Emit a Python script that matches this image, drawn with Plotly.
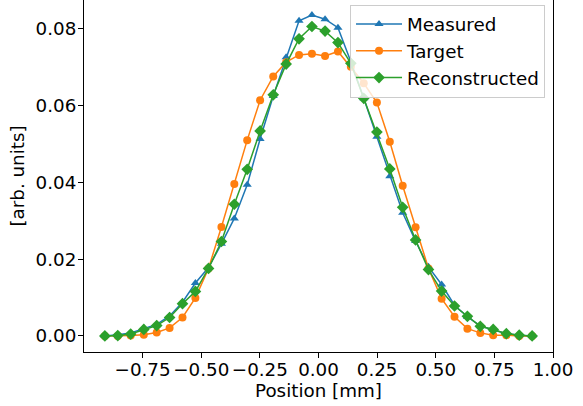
import plotly.graph_objects as go

position_mm = [-0.911, -0.856, -0.801, -0.745, -0.690, -0.635, -0.580, -0.525,
               -0.469, -0.414, -0.359, -0.304, -0.249, -0.193, -0.138, -0.083,
               -0.028, 0.028, 0.083, 0.138, 0.193, 0.249, 0.304, 0.359,
               0.414, 0.469, 0.525, 0.580, 0.635, 0.690, 0.745, 0.801,
               0.856, 0.911]

measured = [0.0000, 0.0003, 0.0008, 0.0020, 0.0030, 0.0052, 0.0088, 0.0138,
            0.0178, 0.0240, 0.0306, 0.0394, 0.0513, 0.0625, 0.0726, 0.0821,
            0.0836, 0.0825, 0.0803, 0.0714, 0.0619, 0.0519, 0.0416, 0.0321,
            0.0247, 0.0180, 0.0134, 0.0080, 0.0050, 0.0026, 0.0016, 0.0006,
            0.0002, 0.0000]

target = [0.0000, 0.0000, 0.0001, 0.0003, 0.0009, 0.0021, 0.0048, 0.0099,
          0.0176, 0.0284, 0.0396, 0.0510, 0.0614, 0.0676, 0.0713, 0.0732,
          0.0735, 0.0729, 0.0741, 0.0701, 0.0658, 0.0608, 0.0506, 0.0391,
          0.0283, 0.0176, 0.0097, 0.0050, 0.0019, 0.0008, 0.0002, 0.0002,
          0.0000, 0.0000]

reconstructed = [0.0000, 0.0001, 0.0005, 0.0017, 0.0027, 0.0048, 0.0084, 0.0116,
                 0.0176, 0.0246, 0.0343, 0.0434, 0.0534, 0.0628, 0.0708, 0.0774,
                 0.0806, 0.0794, 0.0764, 0.0710, 0.0619, 0.0531, 0.0435, 0.0335,
                 0.0250, 0.0173, 0.0117, 0.0078, 0.0051, 0.0025, 0.0017, 0.0006,
                 0.0002, 0.0000]

x_ticks = [-0.75, -0.50, -0.25, 0.00, 0.25, 0.50, 0.75, 1.00]
y_ticks = [0.00, 0.02, 0.04, 0.06, 0.08]

FONT = "DejaVu Sans"
FS = 18.3

fig = go.Figure()
fig.add_trace(go.Scatter(x=position_mm, y=measured, name="Measured",
                         mode="lines+markers",
                         line=dict(color="#1f77b4", width=1.5),
                         marker=dict(symbol="triangle-up", size=8, color="#1f77b4")))
fig.add_trace(go.Scatter(x=position_mm, y=target, name="Target",
                         mode="lines+markers",
                         line=dict(color="#ff7f0e", width=1.5),
                         marker=dict(symbol="circle", size=8, color="#ff7f0e")))
fig.add_trace(go.Scatter(x=position_mm, y=reconstructed, name="Reconstructed",
                         mode="lines+markers",
                         line=dict(color="#2ca02c", width=1.5),
                         marker=dict(symbol="diamond", size=9, color="#2ca02c")))

fig.update_layout(
    width=583, height=406,
    margin=dict(l=83.5, r=30, t=0, b=54),
    paper_bgcolor="white", plot_bgcolor="white",
    font=dict(family=FONT, size=FS, color="black"),
    showlegend=True,
    legend=dict(x=0.983, y=0.987, xanchor="right", yanchor="top",
                bgcolor="rgba(255,255,255,0.8)", bordercolor="#cccccc",
                borderwidth=1, font=dict(family=FONT, size=FS),
                itemwidth=46),
)
fig.update_xaxes(range=[-1.0, 1.0], tickvals=x_ticks, tickformat=".2f",
                 showgrid=False, zeroline=False, showline=True, linecolor="black",
                 linewidth=1, mirror=True, ticks="outside", ticklen=5,
                 tickcolor="black", ticklabelstandoff=-4,
                 title=dict(text="Position [mm]", standoff=0,
                            font=dict(family=FONT, size=FS)))
fig.update_yaxes(range=[-0.00418, 0.0875], tickvals=y_ticks, tickformat=".2f",
                 showgrid=False, zeroline=False, showline=True, linecolor="black",
                 linewidth=1, mirror=True, ticks="outside", ticklen=5,
                 tickcolor="black", ticklabelstandoff=-2,
                 title=dict(text="[arb. units]", standoff=6,
                            font=dict(family=FONT, size=FS)))

fig.write_html("out.html")
